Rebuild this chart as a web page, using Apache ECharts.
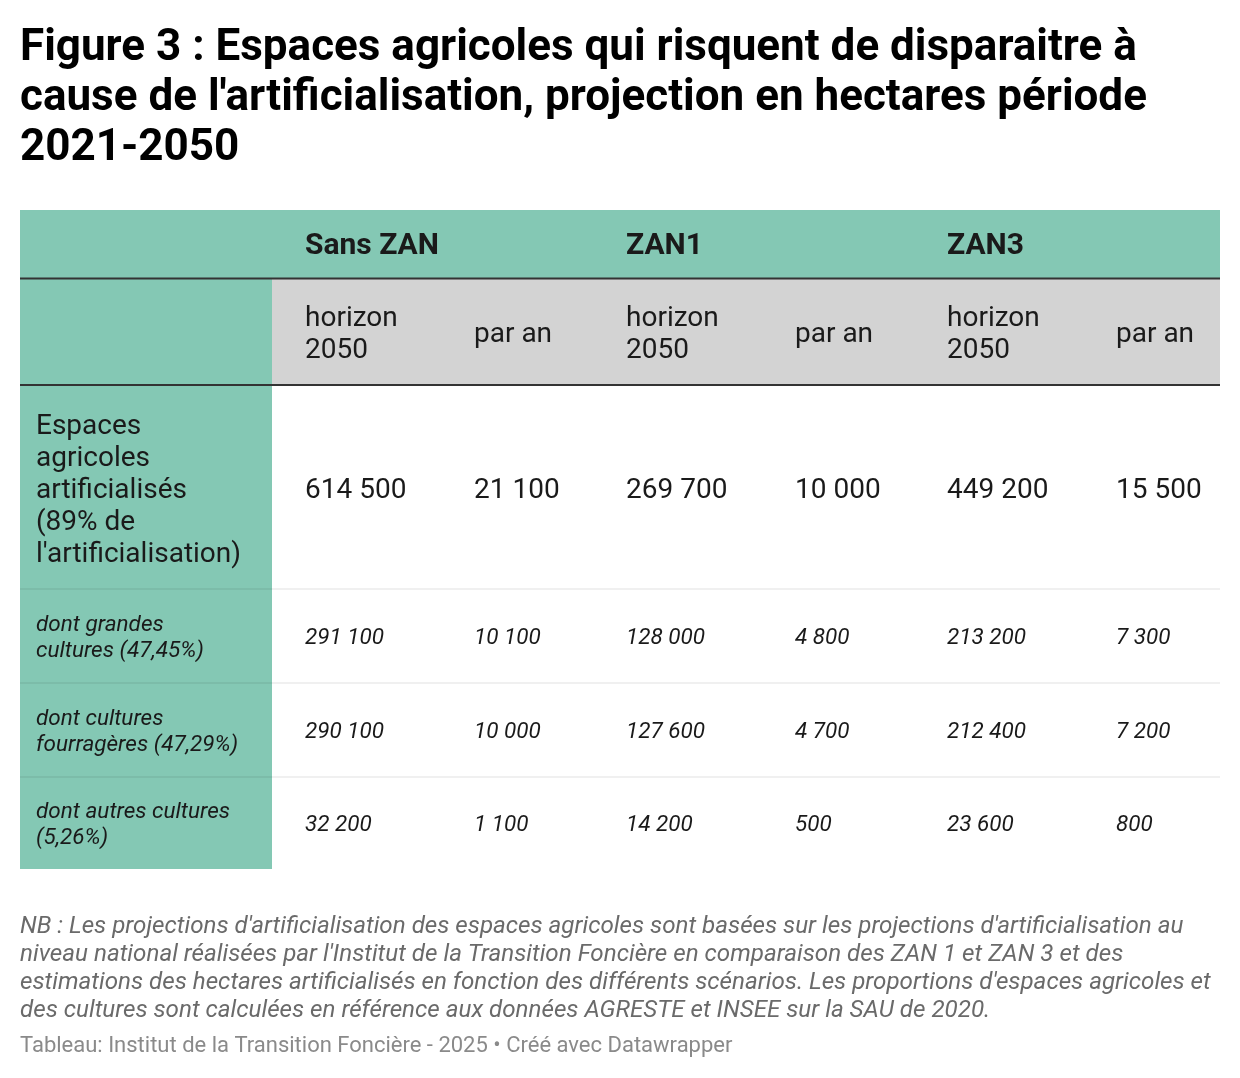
<!DOCTYPE html>
<html>
<head>
<meta charset="utf-8">
<script src="https://cdn.jsdelivr.net/npm/echarts@6/dist/echarts.min.js"></script>
<style>
  html, body { margin: 0; padding: 0; background: #fff; }
  #chart { width: 1240px; height: 1078px; }
</style>
</head>
<body>
<div id="chart"></div>
<script>
// table content
const scenarios = ['Sans ZAN', 'ZAN1', 'ZAN3'];
const subHeaders = ['horizon\n2050', 'par an'];
const rowLabels = [
  "Espaces\nagricoles\nartificialisés\n(89% de\nl'artificialisation)",
  'dont grandes\ncultures (47,45%)',
  'dont cultures\nfourragères (47,29%)',
  'dont autres cultures\n(5,26%)'
];
const sansZanHorizon = [614500, 291100, 290100, 32200];
const sansZanParAn = [21100, 10100, 10000, 1100];
const zan1Horizon = [269700, 128000, 127600, 14200];
const zan1ParAn = [10000, 4800, 4700, 500];
const zan3Horizon = [449200, 213200, 212400, 23600];
const zan3ParAn = [15500, 7300, 7200, 800];

const titleText = "Figure 3 : Espaces agricoles qui risquent de disparaitre à\ncause de l'artificialisation, projection en hectares période\n2021-2050";
const noteText = "NB : Les projections d'artificialisation des espaces agricoles sont basées sur les projections d'artificialisation au\nniveau national réalisées par l'Institut de la Transition Foncière en comparaison des ZAN 1 et ZAN 3 et des\nestimations des hectares artificialisés en fonction des différents scénarios. Les proportions d'espaces agricoles et\ndes cultures sont calculées en référence aux données AGRESTE et INSEE sur la SAU de 2020.";
const sourceText = 'Tableau: Institut de la Transition Foncière - 2025 • Créé avec Datawrapper';

// layout (page units, mapped through the axes)
const tableLeft = 20, tableRight = 1220, labelColRight = 272;
const colTextX = [36, 305, 474, 626, 795, 947, 1116];
const rowEdges = [210, 278.5, 385, 589, 683, 777, 869];
const TEAL = '#84c8b4', GRAY = '#d3d3d3', INK = '#1a1a1a';

const valueCols = [sansZanHorizon, sansZanParAn, zan1Horizon, zan1ParAn, zan3Horizon, zan3ParAn];
const fmt = v => String(v).replace(/\B(?=(\d{3})+(?!\d))/g, ' ');

// backgrounds
const fills = [
  { x0: tableLeft, x1: tableRight, row0: 0, row1: 1, color: TEAL },
  { x0: tableLeft, x1: labelColRight, row0: 1, row1: 2, color: TEAL },
  { x0: labelColRight, x1: tableRight, row0: 1, row1: 2, color: GRAY },
  { x0: tableLeft, x1: labelColRight, row0: 2, row1: 6, color: TEAL }
];

// horizontal rules
const rules = [
  { row: 1, color: '#333333', width: 2 },
  { row: 2, color: '#333333', width: 2 },
  { row: 3, color: 'rgba(0,0,0,0.08)', width: 1.5 },
  { row: 4, color: 'rgba(0,0,0,0.08)', width: 1.5 },
  { row: 5, color: 'rgba(0,0,0,0.08)', width: 1.5 }
];

// text cells
const cells = [];
scenarios.forEach((s, i) => cells.push({ col: 1 + i * 2, row: 0, text: s, kind: 'head' }));
scenarios.forEach((s, i) => subHeaders.forEach((h, j) =>
  cells.push({ col: 1 + i * 2 + j, row: 1, text: h, kind: 'sub' })));
rowLabels.forEach((l, r) => {
  const kind = r === 0 ? 'main' : 'minor';
  cells.push({ col: 0, row: 2 + r, text: l, kind: kind });
  valueCols.forEach((vals, c) => cells.push({ col: 1 + c, row: 2 + r, text: fmt(vals[r]), kind: kind }));
});

const textStyles = {
  head: { fontSize: 30, fontWeight: 'bold', fontStyle: 'normal', lineHeight: 34, dy: 2 },
  sub: { fontSize: 28, fontWeight: 'normal', fontStyle: 'normal', lineHeight: 32, dy: 3 },
  main: { fontSize: 28, fontWeight: 'normal', fontStyle: 'normal', lineHeight: 32, dy: 4 },
  minor: { fontSize: 22.5, fontWeight: 'normal', fontStyle: 'italic', lineHeight: 26, dy: 2 }
};

const chart = echarts.init(document.getElementById('chart'));

chart.setOption({
  backgroundColor: '#ffffff',
  animation: false,
  textStyle: { fontFamily: 'Roboto' },
  title: [
    {
      text: titleText, left: 20, top: 24, padding: 0,
      textStyle: { fontFamily: 'Roboto', fontSize: 44, fontWeight: 'bold', color: '#000', lineHeight: 50 }
    },
    {
      text: noteText, left: 20, top: 913, padding: 0,
      textStyle: { fontFamily: 'Roboto', fontSize: 24.2, fontWeight: 'normal', fontStyle: 'italic', color: '#6a6a6a', lineHeight: 28 }
    },
    {
      text: sourceText, left: 20, top: 1033, padding: 0,
      textStyle: { fontFamily: 'Roboto', fontSize: 22, fontWeight: 'normal', color: '#8a8a8a', lineHeight: 26 }
    }
  ],
  grid: { left: 0, right: 0, top: 0, bottom: 0 },
  xAxis: { type: 'value', min: 0, max: 1240, show: false },
  yAxis: { type: 'value', min: 0, max: 1078, inverse: true, show: false },
  series: [
    {
      type: 'custom',
      name: 'fills',
      silent: true,
      data: fills.map((f, i) => [i]),
      renderItem: (params, api) => {
        const f = fills[params.dataIndex];
        const a = api.coord([f.x0, rowEdges[f.row0]]);
        const b = api.coord([f.x1, rowEdges[f.row1]]);
        return {
          type: 'rect',
          shape: { x: a[0], y: a[1], width: b[0] - a[0], height: b[1] - a[1] },
          style: { fill: f.color }
        };
      }
    },
    {
      type: 'custom',
      name: 'rules',
      silent: true,
      data: rules.map((r, i) => [i]),
      renderItem: (params, api) => {
        const r = rules[params.dataIndex];
        const a = api.coord([tableLeft, rowEdges[r.row]]);
        const b = api.coord([tableRight, rowEdges[r.row]]);
        return {
          type: 'line',
          shape: { x1: a[0], y1: a[1], x2: b[0], y2: b[1] },
          style: { stroke: r.color, lineWidth: r.width }
        };
      }
    },
    {
      type: 'custom',
      name: 'cells',
      silent: true,
      data: cells.map((c, i) => [i]),
      renderItem: (params, api) => {
        const c = cells[params.dataIndex];
        const ts = textStyles[c.kind];
        const yMid = (rowEdges[c.row] + rowEdges[c.row + 1]) / 2 + ts.dy;
        const p = api.coord([colTextX[c.col], yMid]);
        return {
          type: 'text',
          x: p[0], y: p[1],
          style: {
            text: c.text,
            fill: INK,
            fontFamily: 'Roboto',
            fontSize: ts.fontSize,
            fontWeight: ts.fontWeight,
            fontStyle: ts.fontStyle,
            lineHeight: ts.lineHeight,
            align: 'left',
            verticalAlign: 'middle'
          }
        };
      }
    }
  ]
});
</script>
</body>
</html>
